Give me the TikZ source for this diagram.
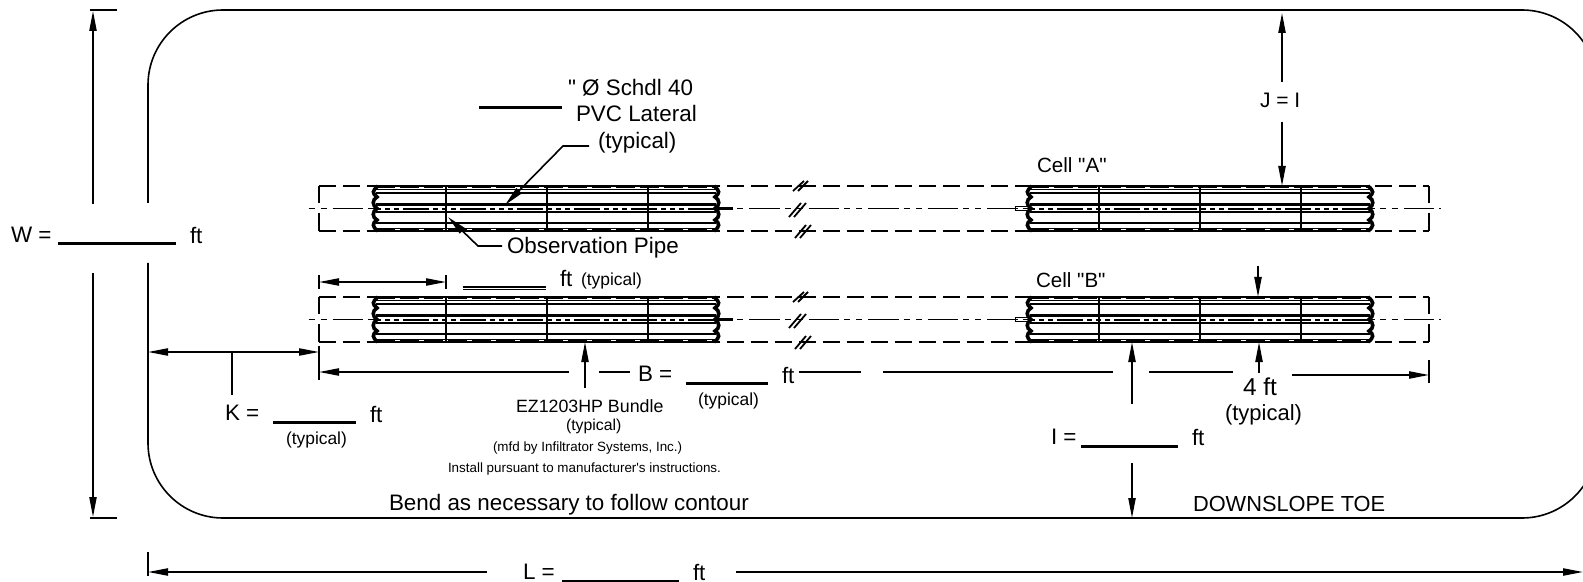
\documentclass[tikz,border=0pt]{standalone}
\usepackage{fontspec}
\newfontfamily\plainfont{Liberation Sans}
\usetikzlibrary{arrows.meta}
\tikzset{
  lab/.style={inner sep=0pt,outer sep=0pt,anchor=base west,font=\plainfont\fontsize{11.2}{13}\selectfont},
  labmid/.style={lab,font=\plainfont\fontsize{8.7}{10}\selectfont},
  labsm/.style={lab,font=\plainfont\fontsize{6.7}{8}\selectfont},
  labbig/.style={lab,font=\plainfont\fontsize{12.2}{14}\selectfont},
  thin line/.style={line width=0.8pt},
  hair/.style={line width=0.5pt},
  blank/.style={line width=1.5pt},
  head/.style={-{Triangle[length=10pt,width=3.6pt]}},
  headboth/.style={{Triangle[length=10pt,width=3.6pt]}-{Triangle[length=10pt,width=3.6pt]}},
  edgedash/.style={line width=0.9pt,dash pattern=on 8.5pt off 3.5pt},
  centerdash/.style={line width=0.55pt,dash pattern=on 15.25pt off 2.5pt on 3pt off 3pt on 3pt off 3pt,dash phase=17pt},
  vent/.style={line width=1.1pt,dash pattern=on 2.5pt off 2pt on 2.5pt off 2pt on 2.5pt off 2pt on 13pt off 2pt},
  scallop/.style={line width=1.8pt},
}
\newcommand{\cellrow}[1]{%
\begin{scope}[shift={(0,#1)}]
  \draw[edgedash] (319,186) -- (1429,186);
  \draw[edgedash] (319,231) -- (1429,231);
  \draw[thin line] (319,186) -- (319,203);
  \draw[thin line] (319,213) -- (319,231);
  \draw[thin line] (1429,186) -- (1429,203);
  \draw[thin line] (1429,213) -- (1429,231);
  \draw[centerdash] (307,208.5) -- (1441,208.5);
  % break marks
  \draw[line width=0.9pt] (793,191) -- (804,181);
  \draw[line width=0.9pt] (798,191) -- (808,181);
  \draw[line width=0.9pt] (789,217) -- (801,203);
  \draw[line width=0.9pt] (794,217) -- (806,203);
  \draw[line width=0.9pt] (795,238) -- (806,225);
  \draw[line width=0.9pt] (800,238) -- (811,225);
  % bundles
  \foreach \a/\b/\c/\d/\e in {373/446/547/648/719,1027/1099/1200/1301/1373}{
    \fill[white] (\a+3,187) rectangle (\e-3,230);
    \draw[line width=1.3pt,dash pattern=on 9.5pt off 2.5pt] (\a+3,186.5) -- (\e-3,186.5);
    \draw[line width=1.3pt,dash pattern=on 9.5pt off 2.5pt] (\a+3,230.5) -- (\e-3,230.5);
    \draw[thin line] (\a+3,189.5) -- (\e-3,189.5);
    \draw[line width=1pt] (\a+3,193.5) -- (\e-3,193.5);
    \draw[line width=1.5pt] (\a+3,204.5) -- (\e-3,204.5);
    \draw[vent] (\a+3,208.7) -- (\e-3,208.7);
    \draw[line width=1pt] (\a+3,212.2) -- (\e-3,212.2);
    \draw[line width=1pt] (\a+3,223.5) -- (\e-3,223.5);
    \draw[thin line] (\a+3,228.5) -- (\e-3,228.5);
    \foreach \v in {\b,\c,\d}{\draw[line width=1pt] (\v,187) -- (\v,230);}
    \draw[scallop] (\a+5,186) .. controls (\a-1,191) and (\a-1,193) .. (\a+4,197)
       .. controls (\a-1,200) and (\a-1,205) .. (\a+4,208.5)
       .. controls (\a-1,212) and (\a-1,217) .. (\a+4,220)
       .. controls (\a-1,223) and (\a-1,227) .. (\a+5,231);
    \draw[scallop] (\e-5,186) .. controls (\e+1,191) and (\e+1,193) .. (\e-4,197)
       .. controls (\e+1,200) and (\e+1,205) .. (\e-4,208.5)
       .. controls (\e+1,212) and (\e+1,217) .. (\e-4,220)
       .. controls (\e+1,223) and (\e+1,227) .. (\e-5,231);
  }
  % pipe stubs
  \draw[line width=1.6pt] (716,208.5) -- (733,208.5);
  \draw[hair] (1015,206.5) rectangle (1030,210.5);
\end{scope}}
\begin{document}
\begin{tikzpicture}[x=0.5pt,y=-0.5pt]
\useasboundingbox (0,0) rectangle (1583,582);
\clip (0,0) rectangle (1583,582);
% named connector ends
\coordinate (wtick1a) at (90,10); \coordinate (wtick1b) at (117,10);
\coordinate (wtick2a) at (90,518); \coordinate (wtick2b) at (117,518);
\coordinate (wup0) at (93,204); \coordinate (wup1) at (93,11);
\coordinate (wdn0) at (93,273); \coordinate (wdn1) at (93,517);
\coordinate (lt1) at (148,552); \coordinate (lt2) at (148,576);
\coordinate (ll0) at (487,572); \coordinate (ll1) at (148,572);
\coordinate (lr0) at (736,572); \coordinate (lr1) at (1583,572);
\coordinate (kl) at (148,352); \coordinate (kr) at (319,352);
\coordinate (ks0) at (232,352); \coordinate (ks1) at (232,395);
\coordinate (kt1) at (319,346); \coordinate (kt2) at (319,380);
\coordinate (rr1) at (1429,360); \coordinate (rr2) at (1429,383);
\coordinate (tl) at (319,282); \coordinate (tr) at (446,282);
\coordinate (tl1) at (319,275); \coordinate (tl2) at (319,289);
\coordinate (tr1) at (446,275); \coordinate (tr2) at (446,289);
\coordinate (bl0) at (569,372); \coordinate (bl1) at (319,372);
\coordinate (b2a) at (599,372); \coordinate (b2b) at (630,372);
\coordinate (b3a) at (799,372); \coordinate (b3b) at (861,372);
\coordinate (b4a) at (883,372); \coordinate (b4b) at (1113,372);
\coordinate (b5a) at (1149,372); \coordinate (b5b) at (1233,372);
\coordinate (f0) at (1292,375); \coordinate (f1) at (1429,375);
\coordinate (ez0) at (585,388); \coordinate (ez1) at (585,342);
\coordinate (iu0) at (1132,404); \coordinate (iu1) at (1132,342);
\coordinate (id0) at (1132,463); \coordinate (id1) at (1132,518);
\coordinate (fa0) at (1259,373); \coordinate (fa1) at (1259,342);
\coordinate (fb0) at (1258,266); \coordinate (fb1) at (1258,297);
\coordinate (ju0) at (1282,82); \coordinate (ju1) at (1282,13);
\coordinate (jd0) at (1282,122); \coordinate (jd1) at (1282,186);
\coordinate (ob0) at (502,246); \coordinate (ob1) at (478,246); \coordinate (ob2) at (448,217);
\coordinate (pv0) at (589,146); \coordinate (pv1) at (563,146); \coordinate (pv2) at (505,205);
% outer boundary
\draw[thin line,rounded corners=37.5pt] (148,203) -- (148,10) -- (1597,10) -- (1597,518) -- (148,518) -- (148,263);
% cells
\cellrow{0}
\cellrow{111}
% W
\draw[thin line] (wtick1a) -- (wtick1b);
\draw[thin line] (wtick2a) -- (wtick2b);
\draw[thin line,head] (wup0) -- (wup1);
\draw[thin line,head] (wdn0) -- (wdn1);
\node[lab] (wlab) at (11,243) {W =};
\draw[blank] (58,244) -- (176,244);
\node[lab] (wft) at (190,244) {ft};
% L
\draw[thin line] (lt1) -- (lt2);
\draw[thin line,head] (ll0) -- (ll1);
\draw[thin line,head] (lr0) -- (lr1);
\node[lab] (llab) at (523,579) {L =};
\draw[blank] (562,581) -- (679,581);
\node[lab] (lft) at (693,580) {ft};
% K
\draw[thin line,headboth] (kl) -- (kr);
\draw[thin line] (kt1) -- (kt2);
\draw[thin line] (ks0) -- (ks1);
\node[lab] (klab) at (225,420) {K =};
\draw[blank] (273,422) -- (356,422);
\node[lab] (kft) at (370,422) {ft};
\node[labmid] (ktyp) at (286,444) {(typical)};
% cell length
\draw[thin line,headboth] (tl) -- (tr);
\draw[thin line] (tl1) -- (tl2);
\draw[thin line] (tr1) -- (tr2);
\draw[line width=0.9pt] (463,287) -- (546,287);
\draw[line width=0.9pt] (463,289.5) -- (546,289.5);
\node[lab] (cft) at (560,287) {ft};
\node[labmid] (ctyp) at (581,286) {(typical)};
% B
\draw[thin line,head] (bl0) -- (bl1);
\draw[thin line] (b2a) -- (b2b);
\node[lab] (blab) at (638,381) {B =};
\draw[blank] (686,383) -- (768,383);
\node[lab] (bft) at (782,383) {ft};
\node[labmid] (btyp) at (698,405) {(typical)};
\draw[thin line] (b3a) -- (b3b);
\draw[thin line] (b4a) -- (b4b);
\draw[thin line] (b5a) -- (b5b);
\draw[thin line,head] (f0) -- (f1);
\draw[thin line] (rr1) -- (rr2);
% EZ bundle
\draw[thin line,head] (ez0) -- (ez1);
\node[lab,font=\plainfont\fontsize{8.9}{10}\selectfont] (ez) at (516,412) {EZ1203HP Bundle};
\node[lab,font=\plainfont\fontsize{7.9}{9}\selectfont] (eztyp) at (566,430) {(typical)};
\node[labsm] (mfd) at (493,451) {(mfd by Infiltrator Systems, Inc.)};
\node[labsm] (inst) at (448,472) {Install pursuant to manufacturer's instructions.};
% I
\draw[thin line,head] (iu0) -- (iu1);
\draw[thin line,head] (id0) -- (id1);
\node[lab] (ilab) at (1051,444) {I =};
\draw[blank] (1081,446) -- (1178,446);
\node[lab] (ift) at (1192,445) {ft};
% 4 ft
\draw[thin line,head] (fa0) -- (fa1);
\draw[thin line,head] (fb0) -- (fb1);
\node[labbig] (fft) at (1243,395) {4 ft};
\node[lab,font=\plainfont\fontsize{11}{13}\selectfont] (ftyp) at (1225,420) {(typical)};
% J
\draw[thin line,head] (ju0) -- (ju1);
\draw[thin line,head] (jd0) -- (jd1);
\node[lab,font=\plainfont\fontsize{10.5}{12}\selectfont] (jlab) at (1260,108) {J = I};
% leaders
\draw[thin line,head] (ob0) -- (ob1) -- (ob2);
\node[lab] (obs) at (507,254) {Observation Pipe};
\draw[thin line,head] (pv0) -- (pv1) -- (pv2);
\draw[blank] (479,107.5) -- (562,107.5);
\node[lab] (pv1t) at (568,96) {" Ø Schdl 40};
\node[lab] (pv2t) at (576,122) {PVC Lateral};
\node[lab] (pv3t) at (598,149) {(typical)};
% other labels
\node[lab,font=\plainfont\fontsize{10.3}{12}\selectfont] (ca) at (1037,172.5) {Cell "A"};
\node[lab,font=\plainfont\fontsize{10.3}{12}\selectfont] (cb) at (1036,287.5) {Cell "B"};
\node[lab] (bend) at (389,510) {Bend as necessary to follow contour};
\node[lab,font=\plainfont\fontsize{10.9}{13}\selectfont] (toe) at (1193,511) {DOWNSLOPE TOE};
\end{tikzpicture}
\end{document}
